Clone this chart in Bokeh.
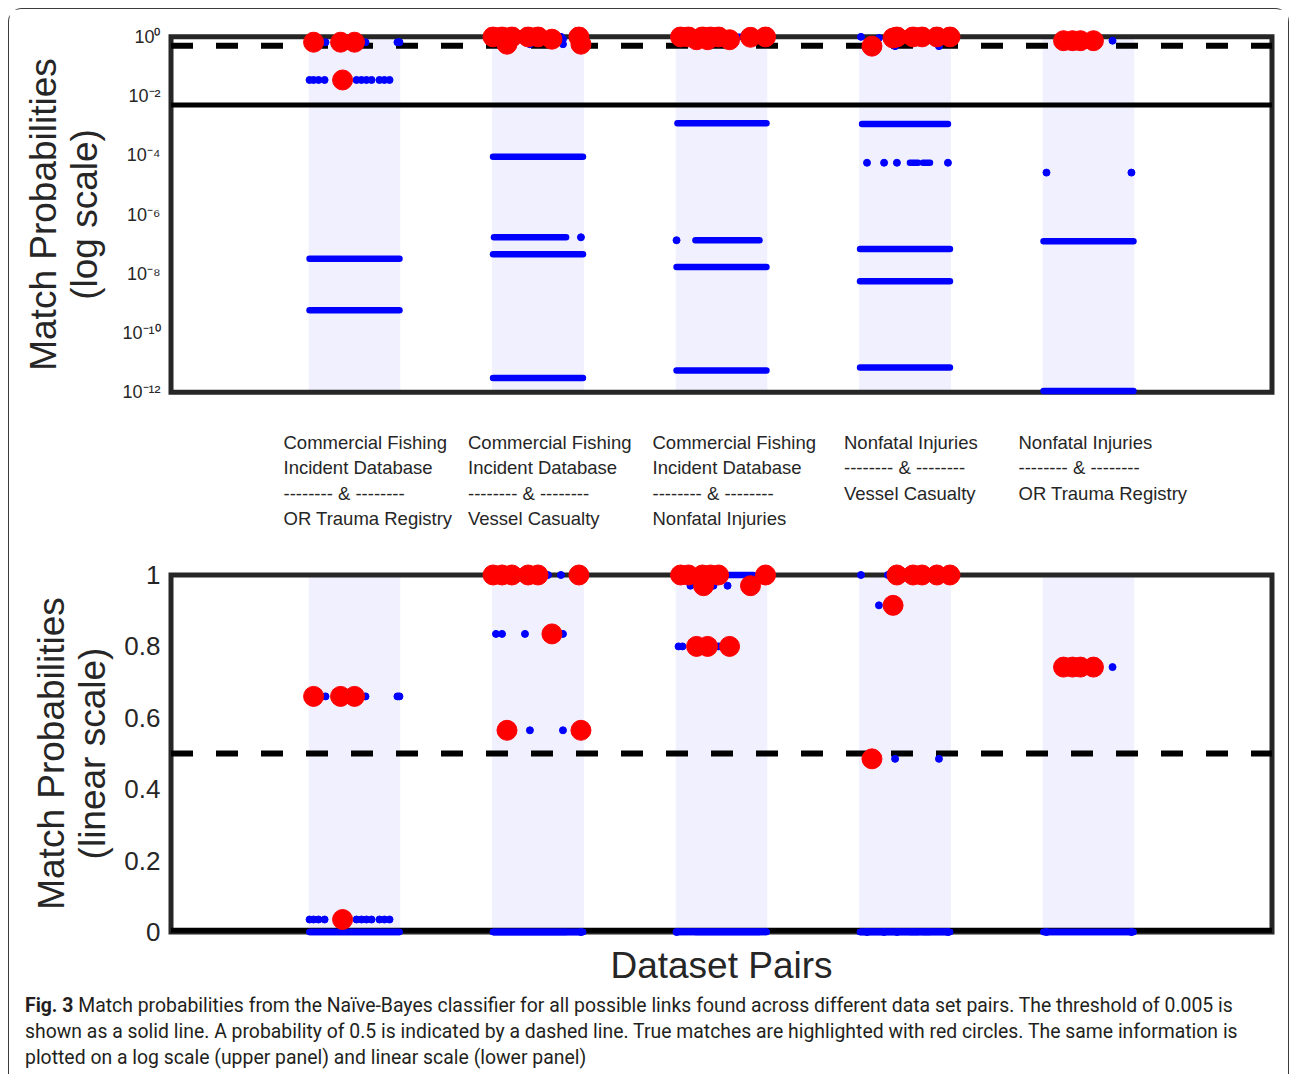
from bokeh.plotting import figure
from bokeh.layouts import column
from bokeh.models import Range1d, FixedTicker, ColumnDataSource, Div
from bokeh.core.properties import value
from bokeh.embed import file_html
from bokeh.resources import INLINE

# ---------------- data ----------------
CATEGORIES = [1, 2, 3, 4, 5]
CATEGORY_LABELS = [
    ["Commercial Fishing", "Incident Database", "-------- & --------", "OR Trauma Registry"],
    ["Commercial Fishing", "Incident Database", "-------- & --------", "Vessel Casualty"],
    ["Commercial Fishing", "Incident Database", "-------- & --------", "Nonfatal Injuries"],
    ["Nonfatal Injuries", "-------- & --------", "Vessel Casualty"],
    ["Nonfatal Injuries", "-------- & --------", "OR Trauma Registry"],
]
X_LIMITS = [0, 6]
LOG_LIMITS = [1e-12, 1.0]
LIN_LIMITS = [0.0, 1.0]
THRESHOLD = 0.005
HALF_PROB = 0.5

LOG_TICKS = [1e-12, 1e-10, 1e-8, 1e-6, 1e-4, 1e-2, 1.0]
LOG_TICK_LABELS = ["10\u207b\u00b9\u00b2", "10\u207b\u00b9\u2070", "10\u207b\u2078", "10\u207b\u2076",
                   "10\u207b\u2074", "10\u207b\u00b2", "10\u2070"]
LIN_TICKS = [0.0, 0.2, 0.4, 0.6, 0.8, 1.0]
LIN_TICK_LABELS = ["0", "0.2", "0.4", "0.6", "0.8", "1"]
X_TITLE = "Dataset Pairs"
Y_TITLE_LOG = "Match Probabilities\n(log scale)"
Y_TITLE_LIN = "Match Probabilities\n(linear scale)"

# true matches (red circles)
true_cat = [1, 1, 1, 1,
            2, 2, 2, 2, 2, 2, 2, 2, 2,
            3, 3, 3, 3, 3, 3, 3, 3, 3, 3, 3,
            4, 4, 4, 4, 4, 4, 4,
            5, 5, 5, 5]
true_jitter = [-0.223, -0.076, 0.0, -0.065,
               -0.245, -0.196, -0.142, -0.054, 0.0, 0.223, 0.076, -0.169, 0.234,
               -0.223, -0.180, -0.104, -0.060, -0.016, 0.240, -0.098, 0.158, -0.136, -0.076, 0.044,
               -0.044, 0.044, 0.093, 0.174, 0.245, -0.065, -0.180,
               -0.136, -0.087, -0.044, 0.027]
true_prob = [0.66, 0.66, 0.66, 0.035,
             1.0, 1.0, 1.0, 1.0, 1.0, 1.0, 0.835, 0.565, 0.565,
             1.0, 1.0, 1.0, 1.0, 1.0, 1.0, 0.97, 0.97, 0.80, 0.80, 0.80,
             1.0, 1.0, 1.0, 1.0, 1.0, 0.915, 0.485,
             0.742, 0.742, 0.742, 0.742]

# other possible links (blue dots), individually visible
link_cat = [1, 1, 1, 1, 1, 1, 1, 1, 1, 1, 1, 1, 1, 1, 1,
            2, 2, 2, 2, 2, 2, 2, 2, 2,
            3, 3, 3, 3, 3, 3, 3,
            4, 4, 4, 4, 4, 4, 4, 4, 4,
            5, 5, 5]
link_jitter = [-0.158, 0.060, 0.234, 0.245, -0.245, -0.223, -0.196, -0.163, 0.011, 0.038, 0.065, 0.093, 0.136, 0.163, 0.191,
               0.054, 0.125, -0.229, -0.196, -0.071, 0.136, -0.044, 0.136, 0.234,
               -0.169, -0.044, 0.033, -0.234, -0.213, -0.016, -0.245,
               -0.240, -0.093, -0.142, -0.054, 0.185, -0.207, -0.114, -0.044, 0.234,
               0.131, -0.229, 0.234]
link_prob = [0.66, 0.66, 0.66, 0.66, 0.035, 0.035, 0.035, 0.035, 0.035, 0.035, 0.035, 0.035, 0.035, 0.035, 0.035,
             1.0, 1.0, 0.835, 0.835, 0.835, 0.835, 0.565, 0.565, 1.7e-7,
             0.97, 0.97, 0.97, 0.80, 0.80, 0.80, 1.35e-7,
             1.0, 1.0, 0.915, 0.485, 0.485, 5.6e-5, 5.6e-5, 5.6e-5, 5.6e-5,
             0.742, 2.6e-5, 2.6e-5]

# densely packed runs of blue dots (many links sharing one probability)
run_cat = [1, 1,
           2, 2, 2, 2,
           3, 3, 3, 3, 3,
           4, 4, 4, 4, 4, 4,
           5, 5]
run_start = [-0.245, -0.245,
             -0.245, -0.240, -0.245, -0.245,
             0.033, -0.240, -0.142, -0.245, -0.245,
             -0.234, 0.027, 0.098, -0.245, -0.245, -0.245,
             -0.245, -0.245]
run_end = [0.245, 0.245,
           0.245, 0.153, 0.245, 0.245,
           0.174, 0.245, 0.207, 0.245, 0.245,
           0.234, 0.071, 0.136, 0.245, 0.245, 0.245,
           0.245, 0.245]
run_prob = [3.2e-8, 5.8e-10,
            9e-5, 1.7e-7, 4.5e-8, 3e-12,
            1.0, 1.2e-3, 1.35e-7, 1.7e-8, 5.4e-12,
            1.15e-3, 5.6e-5, 5.6e-5, 6.9e-8, 5.6e-9, 6.8e-12,
            1.26e-7, 1.1e-12]

CAPTION_LEAD = "Fig. 3"
CAPTION_LINES = [
    "Match probabilities from the Na\u00efve-Bayes classifier for all possible links found across different data set pairs. The threshold of 0.005 is",
    "shown as a solid line. A probability of 0.5 is indicated by a dashed line. True matches are highlighted with red circles. The same information is",
    "plotted on a log scale (upper panel) and linear scale (lower panel)",
]

# ---------------- styles ----------------
W = 1279
BAND_HALF = 0.25
AX_COLOR = "#262626"
BLUE = "#0000ff"
RED = "#ff0000"
FONT = "Liberation Sans"
LABEL_SHIFT_PX = [-71, -70, -69, -61, -70]
LABEL_LINE_Y0 = 28
LABEL_LINE_STEP = 25.3
MB_LEFT, MB_RIGHT = 156, 11

true_x = [c + j for c, j in zip(true_cat, true_jitter)]
link_x = [c + j for c, j in zip(link_cat, link_jitter)]
run_x0 = [c + j for c, j in zip(run_cat, run_start)]
run_x1 = [c + j for c, j in zip(run_cat, run_end)]

true_src = ColumnDataSource(dict(x=true_x, y=true_prob))
link_src = ColumnDataSource(dict(x=link_x, y=link_prob))
run_src = ColumnDataSource(dict(x0=run_x0, x1=run_x1, y=run_prob))
band_src = ColumnDataSource(dict(l=[c - BAND_HALF for c in CATEGORIES], r=[c + BAND_HALF for c in CATEGORIES]))


def style_plot(p):
    p.outline_line_color = None
    p.grid.visible = False
    p.background_fill_color = "white"
    p.border_fill_color = "white"


def panel(p, ylim, ticks, tick_labels, ylabel, tick_size, std):
    style_plot(p)
    p.quad(left="l", right="r", bottom=ylim[0], top=ylim[1], source=band_src,
           fill_color=BLUE, fill_alpha=0.06, line_color=None)
    p.quad(left=X_LIMITS[0], right=X_LIMITS[1], bottom=ylim[0], top=ylim[1],
           fill_color=None, line_color=AX_COLOR, line_width=5, line_join="miter")
    p.line(x=X_LIMITS, y=[THRESHOLD, THRESHOLD], line_color="black", line_width=5)
    p.line(x=X_LIMITS, y=[HALF_PROB, HALF_PROB], line_color="black", line_width=6, line_dash="22 23")
    p.segment(x0="x0", y0="y", x1="x1", y1="y", source=run_src, line_color=BLUE,
              line_width=6.5, line_cap="round")
    p.scatter("x", "y", source=link_src, size=7, fill_color=BLUE, line_color=BLUE)
    p.scatter("x", "y", source=true_src, size=20, fill_color=RED, line_color=RED)
    ax = p.yaxis[0]
    ax.ticker = FixedTicker(ticks=ticks)
    ax.major_label_overrides = dict(zip(ticks, tick_labels))
    ax.axis_line_color = None
    ax.major_tick_line_color = None
    ax.minor_tick_line_color = None
    ax.major_tick_out = 0
    ax.major_tick_in = 0
    ax.major_label_standoff = 5
    ax.major_label_text_font = FONT
    ax.major_label_text_font_size = tick_size
    ax.major_label_text_color = AX_COLOR
    ax.axis_label = ylabel
    ax.axis_label_text_font = FONT
    ax.axis_label_text_font_size = "37px"
    ax.axis_label_text_font_style = "normal"
    ax.axis_label_text_color = AX_COLOR
    ax.axis_label_text_line_height = 1.0
    ax.axis_label_standoff = std


# top (log) panel
pA = figure(width=W, height=405, y_axis_type="log", title=None,
            x_range=Range1d(-0.03, 6.03), y_range=Range1d(10 ** -12.35, 10 ** 0.35),
            output_backend="svg", toolbar_location=None, x_axis_location=None,
            min_border_left=MB_LEFT, min_border_right=MB_RIGHT, min_border_top=17, min_border_bottom=12)
panel(pA, LOG_LIMITS, LOG_TICKS, LOG_TICK_LABELS, Y_TITLE_LOG, "18px", 14)

# category labels
lab_x, lab_y, lab_t, lab_dx = [], [], [], []
for c, lines, sh in zip(CATEGORIES, CATEGORY_LABELS, LABEL_SHIFT_PX):
    for i, t in enumerate(lines):
        lab_x.append(c)
        lab_y.append(LABEL_LINE_Y0 + i * LABEL_LINE_STEP)
        lab_t.append(t)
        lab_dx.append(sh)
pL = figure(width=W, height=131, title=None, x_range=pA.x_range, y_range=Range1d(131, 0),
            output_backend="svg", toolbar_location=None, x_axis_location=None, y_axis_location=None,
            min_border_left=MB_LEFT, min_border_right=MB_RIGHT, min_border_top=0, min_border_bottom=0)
style_plot(pL)
pL.text(x="x", y="y", text="t", x_offset="dx",
        source=ColumnDataSource(dict(x=lab_x, y=lab_y, t=lab_t, dx=lab_dx)),
        text_font=value(FONT), text_font_size="18.5px", text_color=AX_COLOR,
        text_align="left", text_baseline="middle")

# bottom (linear) panel
pB = figure(width=W, height=445, title=None,
            x_range=pA.x_range, y_range=Range1d(-0.035, 1.035),
            output_backend="svg", toolbar_location=None, x_axis_location="below",
            min_border_left=MB_LEFT, min_border_right=MB_RIGHT, min_border_top=17, min_border_bottom=46)
panel(pB, LIN_LIMITS, LIN_TICKS, LIN_TICK_LABELS, Y_TITLE_LIN, "26px", 8)
xa = pB.xaxis[0]
xa.ticker = FixedTicker(ticks=[])
xa.axis_line_color = None
xa.major_tick_line_color = None
xa.minor_tick_line_color = None
xa.major_tick_out = 0
xa.major_label_standoff = 0
xa.axis_label = X_TITLE
xa.axis_label_text_font = FONT
xa.axis_label_text_font_size = "37px"
xa.axis_label_text_font_style = "normal"
xa.axis_label_text_color = AX_COLOR
xa.axis_label_standoff = 0

# caption
caption_html = (
    '<div style="font-family:Roboto; font-size:19.4px; line-height:26px; color:#231f20; '
    'white-space:nowrap; padding-left:16px; padding-top:3px;">'
    + "<b>" + CAPTION_LEAD + "</b> " + "<br>".join(CAPTION_LINES) + "</div>"
)
cap = Div(text=caption_html, width=W, height=84, margin=0)

layout = column(pA, pL, pB, cap, spacing=0, margin=(8, 0, 0, 8),
                styles={"border": "1.5px solid #3a3a3a", "border-bottom": "none",
                        "border-radius": "14px 14px 0 0"})

open("out.html", "w").write(file_html(layout, INLINE))
